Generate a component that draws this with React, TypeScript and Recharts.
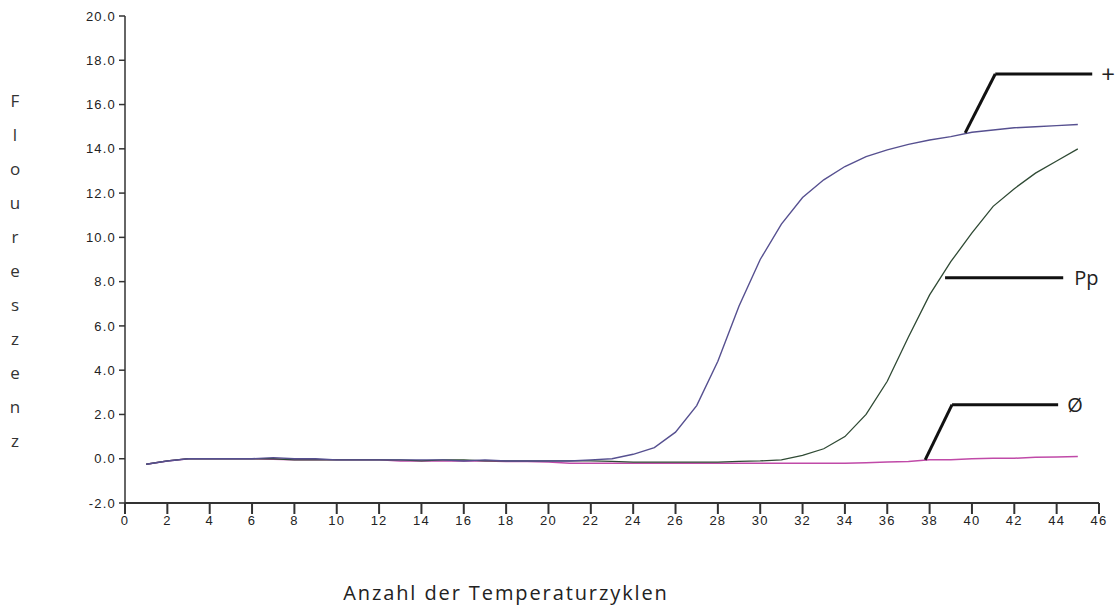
import { LineChart, Line, XAxis, YAxis, ReferenceLine, Label } from 'recharts';

const cycles = [
  1, 2, 3, 4, 5, 6, 7, 8, 9, 10, 11, 12, 13, 14, 15, 16, 17, 18, 19, 20, 21, 22, 23,
  24, 25, 26, 27, 28, 29, 30, 31, 32, 33, 34, 35, 36, 37, 38, 39, 40, 41, 42, 43, 44, 45,
];

// positive control (+)
const plusSignal = [
  -0.25, -0.1, 0.0, 0.0, 0.0, 0.0, 0.05, 0.0, 0.0, -0.05, -0.05, -0.05, -0.05, -0.05, -0.05,
  -0.1, -0.05, -0.1, -0.1, -0.1, -0.1, -0.05, 0.0, 0.2, 0.5, 1.2, 2.4, 4.4, 6.9, 9.0, 10.6,
  11.8, 12.6, 13.2, 13.65, 13.95, 14.2, 14.4, 14.55, 14.75, 14.85, 14.95, 15.0, 15.05, 15.1,
];

// sample (Pp)
const ppSignal = [
  -0.25, -0.1, 0.0, 0.0, 0.0, 0.0, 0.0, -0.05, -0.05, -0.05, -0.05, -0.05, -0.05, -0.1, -0.05,
  -0.05, -0.1, -0.1, -0.1, -0.1, -0.1, -0.1, -0.12, -0.15, -0.15, -0.15, -0.15, -0.15, -0.12,
  -0.1, -0.05, 0.15, 0.45, 1.0, 2.0, 3.5, 5.5, 7.4, 8.9, 10.2, 11.4, 12.2, 12.9, 13.45, 14.0,
];

// negative control (Ø)
const negSignal = [
  -0.25, -0.1, 0.0, 0.0, 0.0, 0.0, -0.02, -0.05, -0.05, -0.05, -0.05, -0.05, -0.1, -0.1, -0.1,
  -0.1, -0.1, -0.12, -0.12, -0.15, -0.2, -0.2, -0.2, -0.2, -0.2, -0.2, -0.2, -0.2, -0.2, -0.2,
  -0.2, -0.2, -0.2, -0.2, -0.18, -0.15, -0.12, -0.05, -0.05, 0.0, 0.02, 0.02, 0.07, 0.08, 0.1,
];

const xTicks = [0, 2, 4, 6, 8, 10, 12, 14, 16, 18, 20, 22, 24, 26, 28, 30, 32, 34, 36, 38, 40, 42, 44, 46];
const yTicks = [-2, 0, 2, 4, 6, 8, 10, 12, 14, 16, 18, 20];

const yTitle = 'Floureszenz';
const xTitle = 'Anzahl der Temperaturzyklen';

// leader lines for the curve labels, in data units
const plusLeader = [
  { x: 39.68, y: 14.72 },
  { x: 41.1, y: 17.38 },
  { x: 45.68, y: 17.38 },
];
const ppLeader = [
  { x: 38.73, y: 8.17 },
  { x: 44.31, y: 8.17 },
];
const negLeader = [
  { x: 37.79, y: -0.05 },
  { x: 39.06, y: 2.44 },
  { x: 44.07, y: 2.44 },
];

const data = cycles.map((c, i) => ({
  cycle: c,
  plus: plusSignal[i],
  pp: ppSignal[i],
  neg: negSignal[i],
}));

const tickStyle = {
  fontFamily: 'Liberation Sans, Arial, sans-serif',
  fontSize: 13,
  letterSpacing: 1.2,
  fill: '#222',
};
const titleFont = 'Open Sans, Lato, sans-serif';

function curveLabel(text: string, gap: number, size = 20) {
  return (props: any) => {
    const vb = props.viewBox;
    return (
      <text
        x={vb.x + vb.width + gap}
        y={vb.y + vb.height / 2}
        dominantBaseline="central"
        fontFamily={titleFont}
        fontSize={size}
        fill="#222"
      >
        {text}
      </text>
    );
  };
}

function YTitle() {
  return (
    <text x={15} textAnchor="middle" fontFamily={titleFont} fontSize={17} fill="#333">
      {yTitle.split('').map((ch, i) => (
        <tspan key={i} x={15} y={107 + i * 34}>
          {ch}
        </tspan>
      ))}
    </text>
  );
}

function XTitle() {
  return (
    <text
      x={506}
      y={600}
      textAnchor="middle"
      fontFamily={titleFont}
      fontSize={20}
      letterSpacing={1.9}
      fill="#222"
    >
      {xTitle}
    </text>
  );
}

export default function App() {
  const leader = { stroke: '#111', strokeWidth: 3, ifOverflow: 'visible' as const };
  return (
    <div style={{ position: 'absolute', left: 0, top: 0, background: '#fff' }}>
      <LineChart
        width={1120}
        height={607}
        data={data}
        margin={{ top: 16, right: 21, bottom: 64, left: 30 }}
      >
        <XAxis
          dataKey="cycle"
          type="number"
          domain={[0, 46]}
          ticks={xTicks}
          interval={0}
          tick={tickStyle}
          tickSize={11}
          tickMargin={2}
          height={40}
          stroke="#333"
          strokeWidth={2}
        >
          <Label content={XTitle} />
        </XAxis>
        <YAxis
          type="number"
          domain={[-2, 20]}
          ticks={yTicks}
          interval={0}
          tickFormatter={(v: number) => v.toFixed(1)}
          tick={tickStyle}
          tickSize={6}
          tickMargin={3}
          width={95}
          stroke="#333"
          strokeWidth={1.5}
        >
          <Label content={YTitle} />
        </YAxis>
        <Line type="linear" dataKey="neg" stroke="#c04aa8" strokeWidth={1.5} dot={false} isAnimationActive={false} />
        <Line type="linear" dataKey="pp" stroke="#2f4a34" strokeWidth={1.3} dot={false} isAnimationActive={false} />
        <Line type="linear" dataKey="plus" stroke="#565090" strokeWidth={1.4} dot={false} isAnimationActive={false} />
        <ReferenceLine segment={[plusLeader[0], plusLeader[1]]} {...leader} />
        <ReferenceLine segment={[plusLeader[1], plusLeader[2]]} {...leader} label={curveLabel('+', 9, 24)} />
        <ReferenceLine segment={[ppLeader[0], ppLeader[1]]} {...leader} label={curveLabel('Pp', 11)} />
        <ReferenceLine segment={[negLeader[0], negLeader[1]]} {...leader} />
        <ReferenceLine segment={[negLeader[1], negLeader[2]]} {...leader} label={curveLabel('Ø', 9)} />
      </LineChart>
    </div>
  );
}
